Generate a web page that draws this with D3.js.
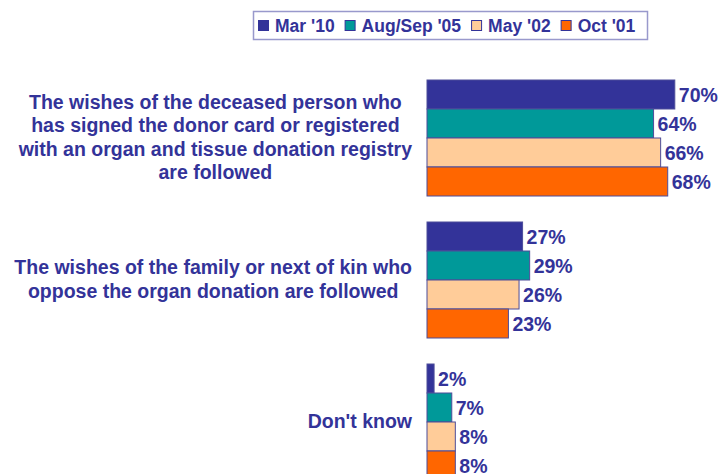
<!DOCTYPE html>
<html>
<head>
<meta charset="utf-8">
<script src="https://cdn.jsdelivr.net/npm/d3@7"></script>
<style>
  body { margin: 0; background: #fff; }
  text { font-family: "Liberation Sans", Arial, sans-serif; font-weight: bold; fill: #333399; }
</style>
</head>
<body>
<div class="chart"></div>
<script>
// data
var categories = [
  ["The wishes of the deceased person who", "has signed the donor card or registered", "with an organ and tissue donation registry", "are followed"],
  ["The wishes of the family or next of kin who", "oppose the organ donation are followed"],
  ["Don't know"]
];
var seriesNames = ["Mar '10", "Aug/Sep '05", "May '02", "Oct '01"];
var mar10 = [70, 27, 2];
var augSep05 = [64, 29, 7];
var may02 = [66, 26, 8];
var oct01 = [68, 23, 8];
var seriesValues = [mar10, augSep05, may02, oct01];
var colors = ["#333399", "#009999", "#FFCC99", "#FF6600"];

var svgWidth = 719, svgHeight = 474;

var svg = d3.select(".chart")
  .append("svg")
  .attr("width", svgWidth)
  .attr("height", svgHeight);

// scales
var xScale = d3.scaleLinear()
  .domain([0, 100])
  .range([427, 427 + 354]);

var groupScale = d3.scaleBand()
  .domain(d3.range(categories.length))
  .range([80, 480])
  .paddingInner(26 / 142)
  .paddingOuter(0);

var barScale = d3.scaleBand()
  .domain(d3.range(seriesNames.length))
  .range([0, groupScale.bandwidth()]);

// bars
var groups = svg.selectAll(".group")
  .data(categories)
  .enter()
  .append("g")
  .attr("class", "group")
  .attr("transform", (d, i) => `translate(0, ${groupScale(i)})`);

groups.each(function(cat, ci) {
  var g = d3.select(this);
  var rows = seriesValues.map((vals, si) => ({ si: si, v: vals[ci] }));

  g.selectAll("rect")
    .data(rows)
    .enter()
    .append("rect")
    .attr("x", xScale(0))
    .attr("y", d => barScale(d.si))
    .attr("width", d => xScale(d.v) - xScale(0))
    .attr("height", barScale.bandwidth())
    .attr("fill", d => colors[d.si])
    .attr("stroke", "#4d4d99")
    .attr("stroke-width", 1);

  g.selectAll(".val")
    .data(rows)
    .enter()
    .append("text")
    .attr("class", "val")
    .attr("x", d => xScale(d.v) + 4)
    .attr("y", d => barScale(d.si) + barScale.bandwidth() / 2 + 7)
    .attr("font-size", "19.5px")
    .text(d => d.v + "%");

  // category label, lines centred in a block that is right aligned
  var label = g.append("text")
    .attr("font-size", "19.5px")
    .attr("text-anchor", "middle");
  var mid = groupScale.bandwidth() / 2;
  var lineH = 23.5;
  var tspans = label.selectAll("tspan")
    .data(cat)
    .enter()
    .append("tspan")
    .attr("y", (d, i) => mid + (i - (cat.length - 1) / 2) * lineH + 6)
    .text(d => d);
  var maxW = 0;
  tspans.each(function() { maxW = Math.max(maxW, this.getComputedTextLength()); });
  tspans.attr("x", 412 - maxW / 2);
});

// legend
var legend = svg.append("g");
legend.append("rect")
  .attr("x", 253.5)
  .attr("y", 11.5)
  .attr("width", 394)
  .attr("height", 28)
  .attr("fill", "#fff")
  .attr("stroke", "#9999cc")
  .attr("stroke-width", 1.5);

var lx = 258;
seriesNames.forEach(function(name, i) {
  legend.append("rect")
    .attr("x", lx + 0.5)
    .attr("y", 20.5)
    .attr("width", 10)
    .attr("height", 10)
    .attr("fill", colors[i])
    .attr("stroke", "#333399")
    .attr("stroke-width", 1);
  var t = legend.append("text")
    .attr("x", lx + 17)
    .attr("y", 32)
    .attr("font-size", "17.5px")
    .text(name);
  lx = lx + 17 + t.node().getComputedTextLength() + 10;
});
</script>
</body>
</html>
